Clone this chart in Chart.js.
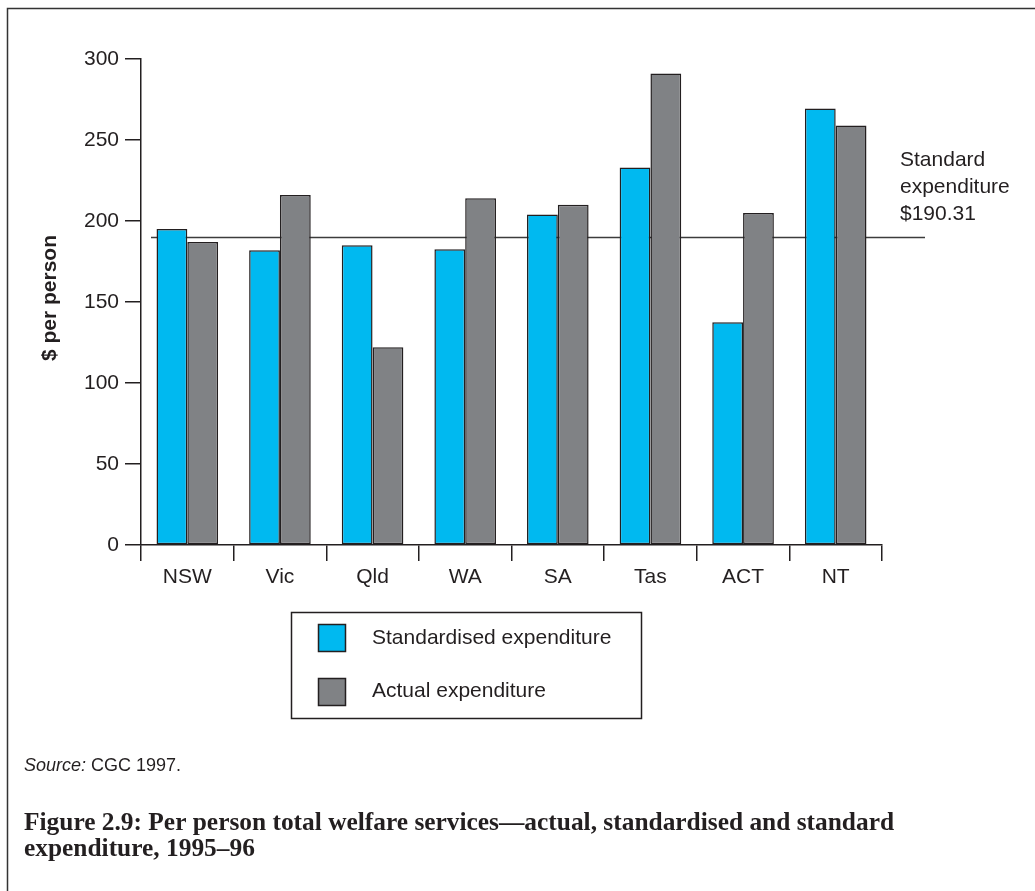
<!DOCTYPE html>
<html>
<head>
<meta charset="utf-8">
<script src="https://cdn.jsdelivr.net/npm/chart.js@4.4.1/dist/chart.umd.min.js"></script>
<style>
  html, body { margin: 0; padding: 0; background: #ffffff; }
  #wrap { position: relative; width: 1035px; height: 891px; }
</style>
</head>
<body>
<div id="wrap"><canvas id="chart" width="1035" height="891"></canvas></div>
<script>
// Per person total welfare services, 1995-96 ($ per person)
const categories = ['NSW', 'Vic', 'Qld', 'WA', 'SA', 'Tas', 'ACT', 'NT'];
const standardised = [195, 182, 185, 182.5, 204, 233, 137.5, 269.5];
const actual = [187, 216, 122, 214, 210, 291, 205, 259];
const standardExpenditure = 190.31;
const yTicks = [0, 50, 100, 150, 200, 250, 300];
const seriesNames = ['Standardised expenditure', 'Actual expenditure'];
const yTitle = '$ per person';
const standardLabel = ['Standard', 'expenditure', '$' + standardExpenditure.toFixed(2)];
const sourceLead = 'Source:';
const sourceText = ' CGC 1997.';
const figureTitle = [
  'Figure 2.9: Per person total welfare services\u2014actual, standardised and standard',
  'expenditure, 1995\u201396'
];

const INK = '#231f20';
const BLUE = '#00b9f0';
const GREY = '#808285';
const SANS = '"Liberation Sans", Arial, sans-serif';
const SERIF = '"Liberation Serif", "Times New Roman", serif';

// Horizontal reference line for the standard expenditure, drawn behind the bars
const standardLine = {
  id: 'standardLine',
  beforeDatasetsDraw(chart) {
    const { ctx, chartArea, scales } = chart;
    const y = Math.round(scales.y.getPixelForValue(standardExpenditure)) + 0.5;
    ctx.save();
    ctx.strokeStyle = '#3c3c3c';
    ctx.lineWidth = 1.5;
    ctx.beginPath();
    ctx.moveTo(chartArea.left + 10, y);
    ctx.lineTo(chartArea.right + 43, y);
    ctx.stroke();
    ctx.restore();
  }
};

// Frame, axis title, line label, legend box, source and figure caption
const annotations = {
  id: 'annotations',
  afterDraw(chart) {
    const { ctx } = chart;
    ctx.save();

    // page frame
    ctx.strokeStyle = '#333333';
    ctx.lineWidth = 1.5;
    ctx.beginPath();
    ctx.moveTo(7.5, 891);
    ctx.lineTo(7.5, 8.5);
    ctx.lineTo(1035, 8.5);
    ctx.stroke();

    // y axis title
    ctx.fillStyle = INK;
    ctx.save();
    ctx.translate(56, 298);
    ctx.rotate(-Math.PI / 2);
    ctx.font = 'bold 21px ' + SANS;
    ctx.textAlign = 'center';
    ctx.textBaseline = 'alphabetic';
    ctx.fillText(yTitle, 0, 0);
    ctx.restore();

    // standard expenditure label
    ctx.font = '21px ' + SANS;
    ctx.textAlign = 'left';
    ctx.textBaseline = 'alphabetic';
    standardLabel.forEach((t, i) => ctx.fillText(t, 900, 166 + i * 27));

    // legend
    ctx.strokeStyle = INK;
    ctx.lineWidth = 1.5;
    ctx.strokeRect(291.5, 612.5, 350, 106);
    chart.data.datasets.forEach((ds, i) => {
      const top = 624 + i * 54;
      ctx.fillStyle = ds.backgroundColor;
      ctx.fillRect(318, top, 27, 27);
      ctx.strokeStyle = INK;
      ctx.lineWidth = 1.5;
      ctx.strokeRect(318.5, top + 0.5, 27, 27);
      ctx.fillStyle = INK;
      ctx.font = '21px ' + SANS;
      ctx.fillText(ds.label, 372, 644 + i * 53);
    });

    // source
    ctx.font = 'italic 18px ' + SANS;
    ctx.fillText(sourceLead, 24, 771);
    const w = ctx.measureText(sourceLead).width;
    ctx.font = '18px ' + SANS;
    ctx.fillText(sourceText, 24 + w, 771);

    // figure caption
    ctx.font = 'bold 25.4px ' + SERIF;
    ctx.fillText(figureTitle[0], 24, 830);
    ctx.fillText(figureTitle[1], 24, 856);

    ctx.restore();
  }
};

const axisGrid = {
  display: true,
  drawOnChartArea: false,
  drawTicks: true,
  tickLength: 16,
  color: INK,
  lineWidth: 1.5
};

new Chart(document.getElementById('chart'), {
  type: 'bar',
  data: {
    labels: categories,
    datasets: [
      {
        label: seriesNames[0],
        data: standardised,
        backgroundColor: BLUE,
        borderColor: INK,
        borderWidth: 1.5,
        borderSkipped: false
      },
      {
        label: seriesNames[1],
        data: actual,
        backgroundColor: GREY,
        borderColor: INK,
        borderWidth: 1.5,
        borderSkipped: false
      }
    ]
  },
  options: {
    responsive: false,
    animation: false,
    devicePixelRatio: 1,
    layout: { padding: { left: 0, top: 59, right: 153, bottom: 0 } },
    datasets: { bar: { categoryPercentage: 0.665, barPercentage: 1.0 } },
    plugins: {
      legend: { display: false },
      tooltip: { enabled: false },
      title: { display: false }
    },
    scales: {
      x: {
        grid: Object.assign({}, axisGrid, { offset: true }),
        border: { display: true, color: INK, width: 1.5 },
        ticks: { font: { family: SANS, size: 21 }, color: INK, padding: 4, maxRotation: 0 },
        afterFit(scale) { scale.height = 346; }
      },
      y: {
        min: 0,
        max: 300,
        afterBuildTicks(scale) { scale.ticks = yTicks.map(v => ({ value: v })); },
        grid: axisGrid,
        border: { display: true, color: INK, width: 1.5 },
        ticks: { font: { family: SANS, size: 21 }, color: INK, padding: 6 },
        afterFit(scale) { scale.width = 141; }
      }
    }
  },
  plugins: [standardLine, annotations]
});
</script>
</body>
</html>
